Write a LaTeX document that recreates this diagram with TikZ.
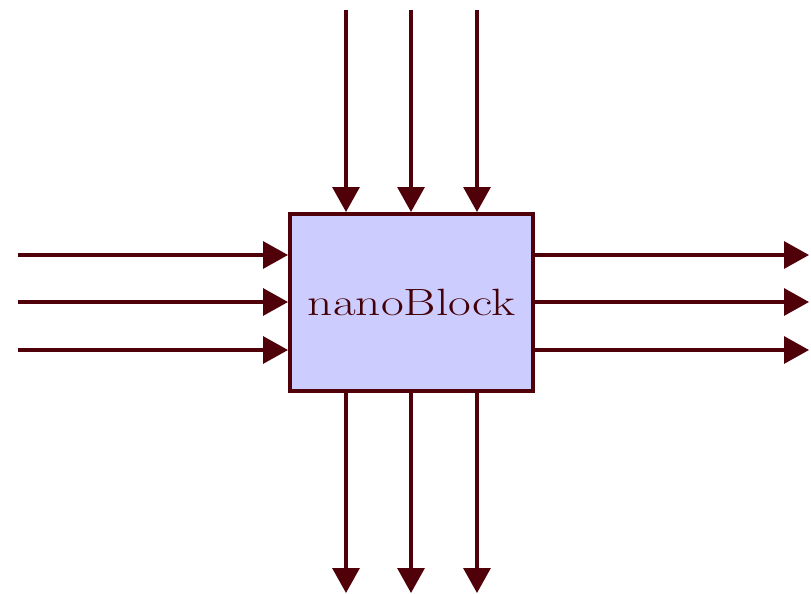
\documentclass[tikz,border=0pt]{standalone}
\usetikzlibrary{arrows.meta}
\definecolor{wire}{RGB}{80,0,8}
\definecolor{boxfill}{RGB}{204,204,255}
\tikzset{
  wirearrow/.style={draw=wire, line width=3.2pt, -{Triangle[length=25pt,width=27pt]}},
  blockbox/.style={draw=wire, fill=boxfill, line width=4pt, minimum width=243pt, minimum height=177pt, inner sep=0pt}
}
\begin{document}
\begin{tikzpicture}[x=1pt,y=1pt]
\useasboundingbox (0,0) rectangle (811,-594);
\node[blockbox] (box) at (411.5,-302.5) {\color{wire!85!black}\scalebox{1.3}[1]{\fontsize{38}{40}\selectfont nanoBlock}};
% top inputs
\coordinate (t1) at (346,-10);
\coordinate (t2) at (411,-10);
\coordinate (t3) at (477,-10);
\draw[wirearrow] (t1) -- (t1 |- box.north);
\draw[wirearrow] (t2) -- (t2 |- box.north);
\draw[wirearrow] (t3) -- (t3 |- box.north);
% left inputs
\coordinate (l1) at (18,-255);
\coordinate (l2) at (18,-302);
\coordinate (l3) at (18,-350);
\draw[wirearrow] (l1) -- (l1 -| box.west);
\draw[wirearrow] (l2) -- (l2 -| box.west);
\draw[wirearrow] (l3) -- (l3 -| box.west);
% right outputs
\coordinate (r1) at (809,-255);
\coordinate (r2) at (809,-302);
\coordinate (r3) at (809,-350);
\draw[wirearrow] (r1 -| box.east) -- (r1);
\draw[wirearrow] (r2 -| box.east) -- (r2);
\draw[wirearrow] (r3 -| box.east) -- (r3);
% bottom outputs
\coordinate (b1) at (346,-593);
\coordinate (b2) at (411,-593);
\coordinate (b3) at (477,-593);
\draw[wirearrow] (b1 |- box.south) -- (b1);
\draw[wirearrow] (b2 |- box.south) -- (b2);
\draw[wirearrow] (b3 |- box.south) -- (b3);
\end{tikzpicture}
\end{document}
